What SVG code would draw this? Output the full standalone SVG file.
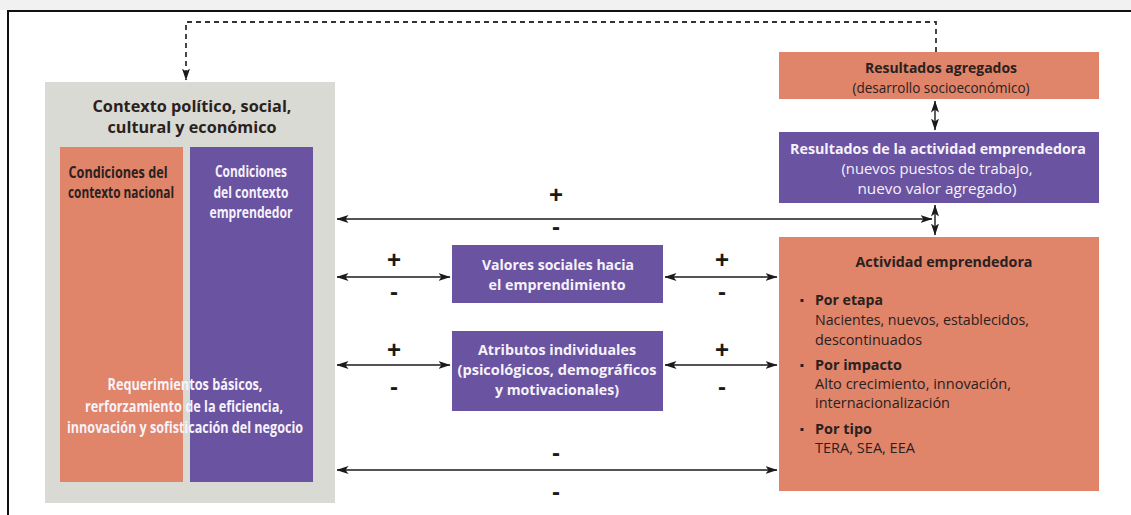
<svg xmlns="http://www.w3.org/2000/svg" width="1131" height="515" viewBox="0 0 1131 515">
<style>
  .bg{fill:#ffffff}
  .frame{fill:none;stroke:#111;stroke-width:2}
  .gray{fill:#d9dad3}
  .orange{fill:#e0846a}
  .purple{fill:#6a53a1}
  .t{font-family:"Open Sans","Noto Sans","Liberation Sans",sans-serif;font-size:15px}
  .b{font-weight:bold}
  .dark{fill:#2a211e}
  .light{fill:#f6f2fa}
  .c{text-anchor:middle}
  .conn{fill:none;stroke:#1a1a1a;stroke-width:1.4}
  .dash{fill:none;stroke:#333;stroke-width:1.8;stroke-dasharray:5 4}
  .sign{font-family:"Liberation Sans",Arial,sans-serif;font-weight:bold;font-size:24px;fill:#1a1a1a;text-anchor:middle}
</style>
<defs>
  <marker id="ah" viewBox="0 0 12 8" refX="11.5" refY="4" markerWidth="12" markerHeight="8" markerUnits="userSpaceOnUse" orient="auto-start-reverse">
    <path d="M0,0 L12,4 L0,8 L3,4 z" fill="#1a1a1a"/>
  </marker>
</defs>
<rect class="bg" x="0" y="0" width="1131" height="515"/>
<rect x="0" y="0" width="1131" height="10" fill="#f1f1f1"/>
<path class="frame" d="M8,515 V11 H1131"/>

<g id="contexto">
  <rect class="gray" x="45" y="82" width="290" height="421"/>
  <text class="t b dark c" style="font-size:16.5px" x="192" y="112" textLength="199" lengthAdjust="spacingAndGlyphs">Contexto político, social,</text>
  <text class="t b dark c" style="font-size:16.5px" x="192" y="133" textLength="169" lengthAdjust="spacingAndGlyphs">cultural y económico</text>
</g>
<g id="nacional">
  <rect class="orange" x="60" y="147" width="123" height="335"/>
  <text class="t b dark c" style="font-size:15.5px" x="118" y="178" textLength="99" lengthAdjust="spacingAndGlyphs">Condiciones del</text>
  <text class="t b dark c" style="font-size:15.5px" x="121" y="198" textLength="106" lengthAdjust="spacingAndGlyphs">contexto nacional</text>
</g>
<g id="emprendedor">
  <rect class="purple" x="190" y="147" width="123" height="335"/>
  <text class="t b light c" style="font-size:15.5px" x="251" y="177" textLength="72" lengthAdjust="spacingAndGlyphs">Condiciones</text>
  <text class="t b light c" style="font-size:15.5px" x="251" y="198" textLength="75" lengthAdjust="spacingAndGlyphs">del contexto</text>
  <text class="t b light c" style="font-size:15.5px" x="251" y="218" textLength="83" lengthAdjust="spacingAndGlyphs">emprendedor</text>
</g>
<g id="requerimientos">
  <text class="t b light c" style="font-size:15.5px" x="185" y="390" textLength="155" lengthAdjust="spacingAndGlyphs">Requerimientos básicos,</text>
  <text class="t b light c" style="font-size:15.5px" x="184" y="412" textLength="198" lengthAdjust="spacingAndGlyphs">rerforzamiento de la eficiencia,</text>
  <text class="t b light c" style="font-size:15.5px" x="185" y="433" textLength="236" lengthAdjust="spacingAndGlyphs">innovación y sofisticación del negocio</text>
</g>

<g id="valores">
  <rect class="purple" x="452" y="245" width="211" height="58"/>
  <text class="t b light c" x="558" y="270" textLength="152" lengthAdjust="spacingAndGlyphs">Valores sociales hacia</text>
  <text class="t b light c" x="557" y="290" textLength="137" lengthAdjust="spacingAndGlyphs">el emprendimiento</text>
</g>
<g id="atributos">
  <rect class="purple" x="452" y="331" width="211" height="80"/>
  <text class="t b light c" x="557" y="355" textLength="158" lengthAdjust="spacingAndGlyphs">Atributos individuales</text>
  <text class="t b light c" x="557" y="375" textLength="199" lengthAdjust="spacingAndGlyphs">(psicológicos, demográficos</text>
  <text class="t b light c" x="557" y="395" textLength="124" lengthAdjust="spacingAndGlyphs">y motivacionales)</text>
</g>

<g id="agregados">
  <rect class="orange" x="779" y="52" width="320" height="47"/>
  <text class="t b dark c" x="941" y="73" textLength="152" lengthAdjust="spacingAndGlyphs">Resultados agregados</text>
  <text class="t dark c" x="941" y="93" textLength="177" lengthAdjust="spacingAndGlyphs">(desarrollo socioeconómico)</text>
</g>
<g id="resultados">
  <rect class="purple" x="779" y="132" width="320" height="71"/>
  <text class="t b light c" x="938" y="154" textLength="296" lengthAdjust="spacingAndGlyphs">Resultados de la actividad emprendedora</text>
  <text class="t light c" x="937" y="174" textLength="191" lengthAdjust="spacingAndGlyphs">(nuevos puestos de trabajo,</text>
  <text class="t light c" x="937" y="194" textLength="159" lengthAdjust="spacingAndGlyphs">nuevo valor agregado)</text>
</g>
<g id="actividad">
  <rect class="orange" x="779" y="237" width="320" height="254"/>
  <text class="t b dark c" x="944" y="267" textLength="177" lengthAdjust="spacingAndGlyphs">Actividad emprendedora</text>
  <rect x="800.5" y="299" width="3" height="3" fill="#2a211e"/>
  <text class="t b dark" x="815" y="305" textLength="68" lengthAdjust="spacingAndGlyphs">Por etapa</text>
  <text class="t dark" x="815" y="325" textLength="214" lengthAdjust="spacingAndGlyphs">Nacientes, nuevos, establecidos,</text>
  <text class="t dark" x="815" y="345" textLength="107" lengthAdjust="spacingAndGlyphs">descontinuados</text>
  <rect x="800.5" y="364" width="3" height="3" fill="#2a211e"/>
  <text class="t b dark" x="815" y="370" textLength="87" lengthAdjust="spacingAndGlyphs">Por impacto</text>
  <text class="t dark" x="815" y="389" textLength="196" lengthAdjust="spacingAndGlyphs">Alto crecimiento, innovación,</text>
  <text class="t dark" x="815" y="408" textLength="135" lengthAdjust="spacingAndGlyphs">internacionalización</text>
  <rect x="800.5" y="428" width="3" height="3" fill="#2a211e"/>
  <text class="t b dark" x="815" y="434" textLength="57" lengthAdjust="spacingAndGlyphs">Por tipo</text>
  <text class="t dark" x="815" y="453" textLength="100" lengthAdjust="spacingAndGlyphs">TERA, SEA, EEA</text>
</g>

<g id="connectors">
  <path class="dash" d="M936,52 V22 H186 V80" marker-end="url(#ah)"/>
  <path class="conn" d="M932,219 H337" marker-start="url(#ah)" marker-end="url(#ah)"/>
  <path class="conn" d="M337,277 H450" marker-start="url(#ah)" marker-end="url(#ah)"/>
  <path class="conn" d="M665,277 H777" marker-start="url(#ah)" marker-end="url(#ah)"/>
  <path class="conn" d="M337,365 H450" marker-start="url(#ah)" marker-end="url(#ah)"/>
  <path class="conn" d="M665,365 H777" marker-start="url(#ah)" marker-end="url(#ah)"/>
  <path class="conn" d="M337,470 H777" marker-start="url(#ah)" marker-end="url(#ah)"/>
  <path class="conn" d="M935,101 V130" marker-start="url(#ah)" marker-end="url(#ah)"/>
  <path class="conn" d="M935,205 V235" marker-start="url(#ah)" marker-end="url(#ah)"/>
  <text class="sign" x="556" y="203">+</text>
  <text class="sign" x="556" y="235">-</text>
  <text class="sign" x="394" y="268">+</text>
  <text class="sign" x="394" y="300">-</text>
  <text class="sign" x="722" y="268">+</text>
  <text class="sign" x="722" y="300">-</text>
  <text class="sign" x="394" y="358">+</text>
  <text class="sign" x="394" y="395">-</text>
  <text class="sign" x="722" y="358">+</text>
  <text class="sign" x="722" y="395">-</text>
  <text class="sign" x="556" y="461">-</text>
  <text class="sign" x="556" y="500">-</text>
</g>
</svg>
